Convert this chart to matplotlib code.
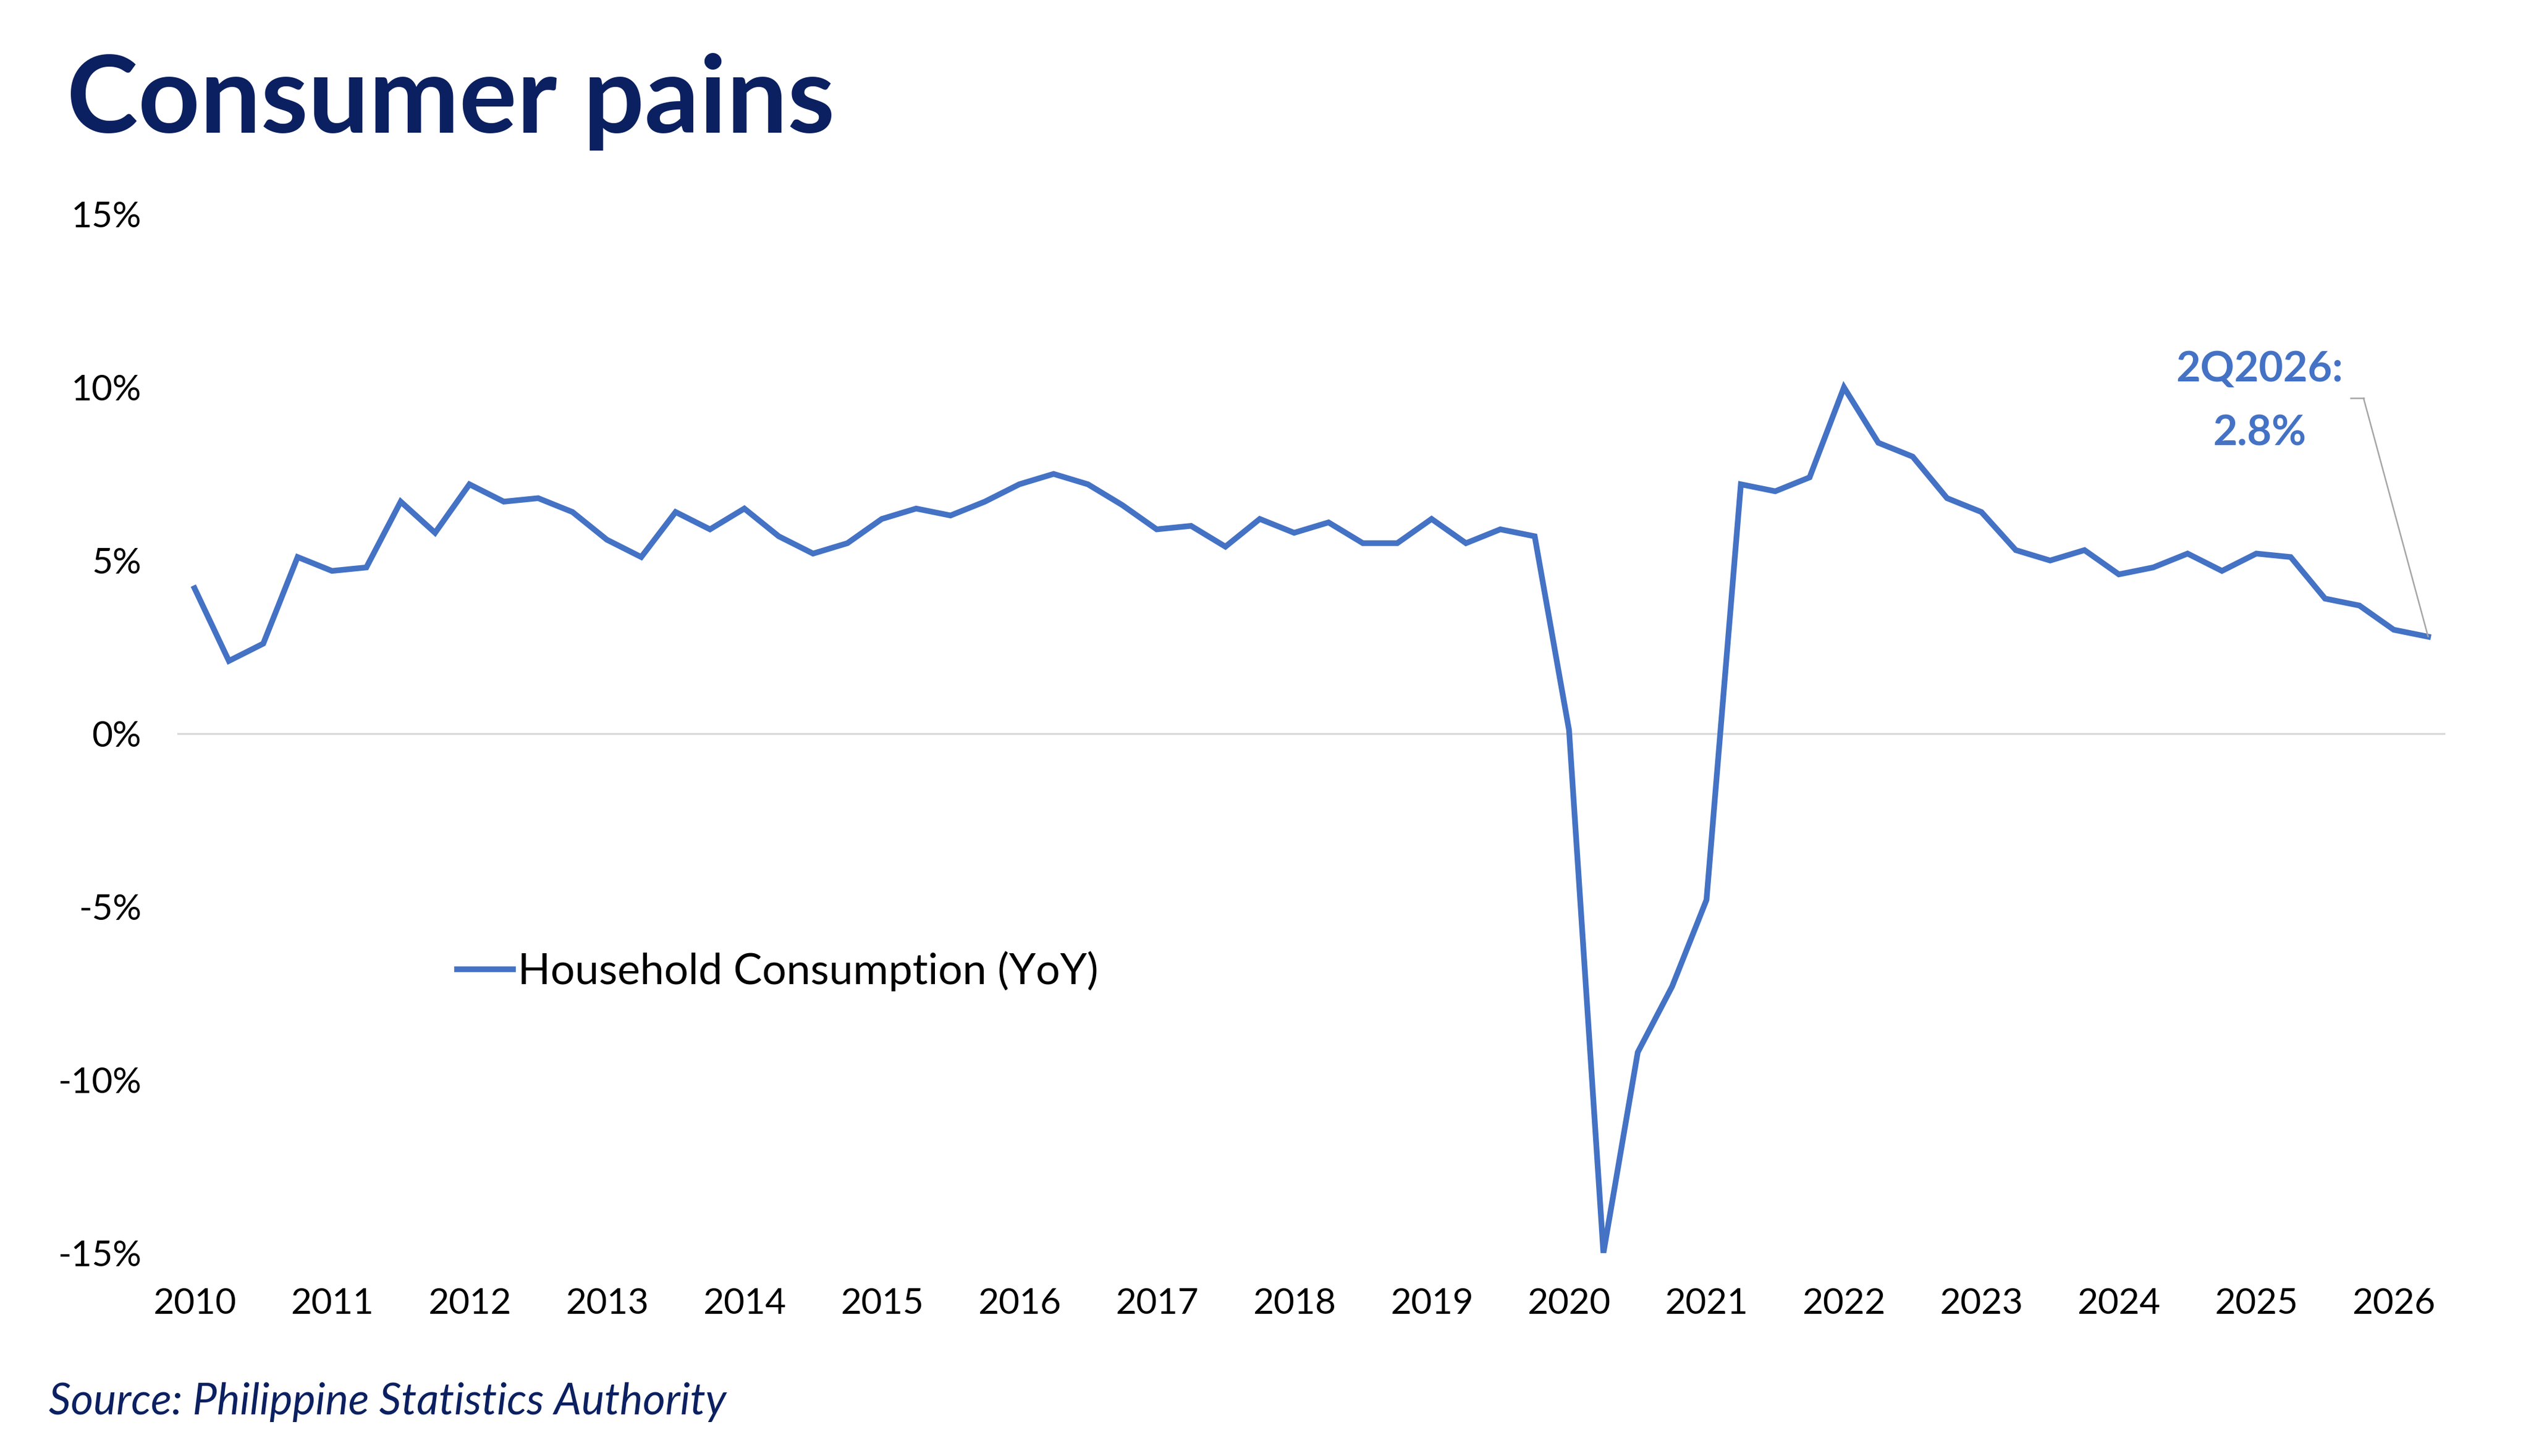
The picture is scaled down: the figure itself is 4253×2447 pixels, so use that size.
import matplotlib
matplotlib.use("Agg")
import matplotlib.pyplot as plt

# Philippine household consumption growth, YoY %, quarterly 1Q2010 - 2Q2026
years = list(range(2010, 2027))
consumption = [
    4.2, 2.1, 2.6, 5.1,      # 2010
    4.7, 4.8, 6.7, 5.8,      # 2011
    7.2, 6.7, 6.8, 6.4,      # 2012
    5.6, 5.1, 6.4, 5.9,      # 2013
    6.5, 5.7, 5.2, 5.5,      # 2014
    6.2, 6.5, 6.3, 6.7,      # 2015
    7.2, 7.5, 7.2, 6.6,      # 2016
    5.9, 6.0, 5.4, 6.2,      # 2017
    5.8, 6.1, 5.5, 5.5,      # 2018
    6.2, 5.5, 5.9, 5.7,      # 2019
    0.1, -15.0, -9.2, -7.3,  # 2020
    -4.8, 7.2, 7.0, 7.4,     # 2021
    10.0, 8.4, 8.0, 6.8,     # 2022
    6.4, 5.3, 5.0, 5.3,      # 2023
    4.6, 4.8, 5.2, 4.7,      # 2024
    5.2, 5.1, 3.9, 3.7,      # 2025
    3.0, 2.8,                # 2026
]
yticks = [15, 10, 5, 0, -5, -10, -15]
series_label = "Household Consumption (YoY)"
callout = "2Q2026:\n2.8%"

navy = "#0B2060"
blue = "#4472C4"

plt.rcParams["font.family"] = ["Lato", "DejaVu Sans"]

W, H = 4253, 2447
fig = plt.figure(figsize=(W / 300, H / 300), dpi=300)
ax = fig.add_axes([298 / W, 1 - 2106 / H, 3811 / W, 1746 / H])

q = list(range(len(consumption)))
ax.plot(q, consumption, color=blue, lw=2.3, solid_joinstyle="miter",
        label=series_label, zorder=3)
ax.axhline(0, color="#D9D9D9", lw=0.8, zorder=1)

ax.set_xlim(-0.5, len(consumption) - 0.5)
ax.set_ylim(-15, 15)
ax.set_xticks(q[::4])
ax.set_xticklabels([str(y) for y in years])
ax.set_yticks(yticks)
ax.set_yticklabels([f"{v}%" for v in yticks])
ax.tick_params(length=0, labelsize=14.5, colors="black")
ax.tick_params(axis="y", pad=14.5)
ax.tick_params(axis="x", pad=14)
for s in ax.spines.values():
    s.set_visible(False)

ax.legend(loc="center left", bbox_to_anchor=(0.1233, 0.2715), frameon=False,
          fontsize=17.3, handlelength=1.3, handletextpad=0.12,
          borderpad=0, borderaxespad=0)

# callout with leader line to the last point
lab_x, lab_y = 62.75, 9.69
ax.text(60.1, 9.6, callout, ha="center", va="center", color=blue,
        fontsize=17, fontweight="bold", linespacing=1.8)
ax.plot([lab_x, lab_x + 0.37], [lab_y, lab_y], color="#A6A6A6", lw=0.6)
ax.annotate("", xy=(q[-1], consumption[-1]), xytext=(lab_x + 0.37, lab_y),
            arrowprops=dict(arrowstyle="-", color="#A6A6A6", lw=0.6,
                            shrinkA=0, shrinkB=0))

fig.text(112 / W, 1 - 223 / H, "Consumer pains", color=navy, fontsize=43.5,
         fontweight="bold", ha="left", va="baseline")
fig.text(82 / W, 1 - 2377 / H, "Source: Philippine Statistics Authority",
         color=navy, fontsize=17.5, style="italic", ha="left", va="baseline")

fig.savefig("out.png", dpi=300)
